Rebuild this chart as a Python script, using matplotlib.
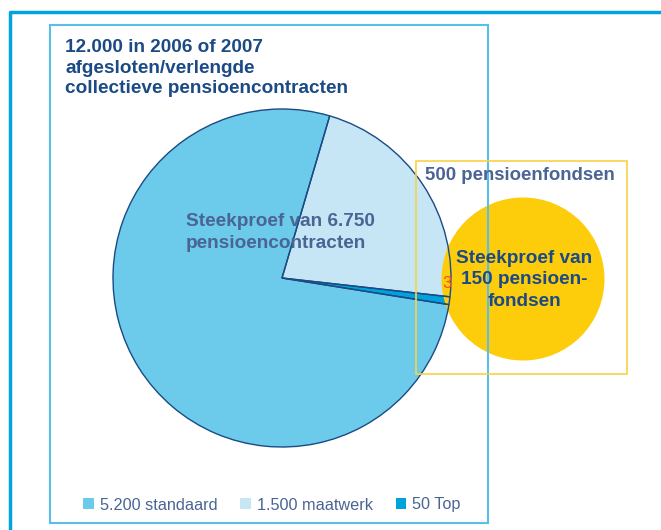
import matplotlib.pyplot as plt
from matplotlib.patches import Rectangle, Circle, Patch

# data
labels = ['5.200 standaard', '1.500 maatwerk', '50 Top']
counts = [5200, 1500, 50]
colors = ['#6CCAEA', '#C6E6F6', '#00A2DB']
pie_order = [0, 2, 1]  # counter-clockwise draw order

title = '12.000 in 2006 of 2007\nafgesloten/verlengde\ncollectieve pensioencontracten'
sample_text = 'Steekproef van 6.750\npensioencontracten'
funds_title = '500 pensioenfondsen'
funds_sample = 'Steekproef van\n150 pensioen-\nfondsen'
overlap_label = '3'

W, H = 661, 530
navy = '#1B4A84'
slate = '#4A6494'

plt.rcParams['font.family'] = ['Liberation Sans', 'DejaVu Sans']

fig = plt.figure(figsize=(W / 100, H / 100), dpi=100)
ax = fig.add_axes([0, 0, 1, 1])


def py(y):
    # pixel row (from top) -> data y
    return H - y


def reset_axes():
    ax.set_xlim(0, W)
    ax.set_ylim(0, H)
    ax.set_aspect('equal')
    ax.axis('off')


# outer frame (open to the right / bottom)
ax.plot([10, 10, W + 5], [py(H + 5), py(12), py(12)], color='#00A3DD', lw=2.5, zorder=1)

# pie
cx, cy, r = 282, py(278), 169
vals = [counts[i] for i in pie_order]
cols = [colors[i] for i in pie_order]
ax.pie(vals, colors=cols, startangle=73.6, counterclock=True, center=(cx, cy), radius=r,
       wedgeprops=dict(edgecolor='none', linewidth=0), frame=True)
reset_axes()

# yellow sample circle
ax.add_patch(Circle((523, py(279)), 81.5, facecolor='#FDCC0B', edgecolor='none', zorder=3))

# pie outlines on top
wedges, _ = ax.pie(vals, colors=['none'] * 3, startangle=73.6, counterclock=True,
                   center=(cx, cy), radius=r,
                   wedgeprops=dict(edgecolor=navy, linewidth=1.0, fill=False), frame=True)
for w in wedges:
    w.set_zorder(4)
reset_axes()

# boxes
ax.add_patch(Rectangle((50, py(523)), 438, 498, facecolor='none', edgecolor='#5BBEE8',
                       lw=1.5, zorder=5))
ax.add_patch(Rectangle((416, py(374)), 211, 213, facecolor='none', edgecolor='#F8D245',
                       lw=1.2, zorder=5))

# texts
ax.text(65, py(39), title, fontsize=13.7, fontweight='bold', color=navy,
        ha='left', va='top', linespacing=1.27, zorder=6)
ax.text(186, py(213), sample_text, fontsize=13.7, fontweight='bold', color=slate,
        ha='left', va='top', linespacing=1.4, zorder=6)
ax.text(520, py(176), funds_title, fontsize=13.4, fontweight='bold', color=slate,
        ha='center', va='center', zorder=6)
ax.text(524, py(280), funds_sample, fontsize=13.7, fontweight='bold', color=navy,
        ha='center', va='center', linespacing=1.32, zorder=6)
ax.text(447, py(284), overlap_label, fontsize=12, color='#F04E23',
        ha='center', va='center', zorder=6)

# legend
handles = [Patch(facecolor=c, edgecolor='none') for c in colors]
leg = ax.legend(handles, labels, ncol=3, loc='center left', bbox_to_anchor=(83 / W, 1 - 505 / H),
                bbox_transform=fig.transFigure, frameon=False, fontsize=11.7,
                handlelength=0.66, handleheight=0.66, handletextpad=0.37,
                columnspacing=1.4, borderpad=0, borderaxespad=0)
for t in leg.get_texts():
    t.set_color(slate)

fig.savefig('out.png', dpi=100)
